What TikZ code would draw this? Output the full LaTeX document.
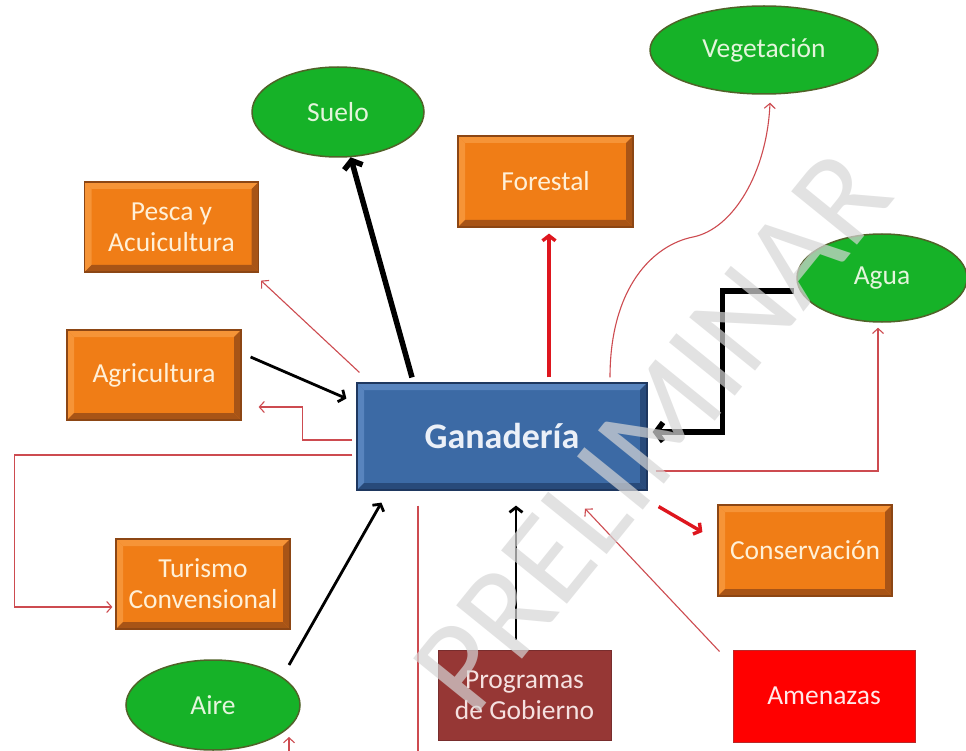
\documentclass[tikz,border=0pt]{standalone}
\usepackage{fontspec}
\setmainfont{Carlito}
\usetikzlibrary{shapes.geometric,arrows.meta}
\definecolor{orfill}{RGB}{240,125,22}
\definecolor{orline}{RGB}{140,70,20}
\definecolor{ordark}{RGB}{168,84,22}
\definecolor{orlight}{RGB}{246,148,55}
\definecolor{ortext}{RGB}{255,240,215}
\definecolor{blfill}{RGB}{60,106,165}
\definecolor{blline}{RGB}{30,55,95}
\definecolor{bldark}{RGB}{40,74,122}
\definecolor{bllight}{RGB}{88,132,190}
\definecolor{bltext}{RGB}{235,240,248}
\definecolor{grfill}{RGB}{22,178,40}
\definecolor{grline}{RGB}{80,98,40}
\definecolor{grtext}{RGB}{228,245,220}
\definecolor{pgfillc}{RGB}{150,55,53}
\definecolor{pgline}{RGB}{120,45,45}
\definecolor{pgtext}{RGB}{245,225,224}
\definecolor{amfill}{RGB}{255,0,0}
\definecolor{amline}{RGB}{185,40,40}
\definecolor{amtext}{RGB}{255,232,232}
\definecolor{thinr}{RGB}{205,75,80}
\definecolor{thickr}{RGB}{222,22,30}
\tikzset{
  bevel/.style n args={2}{path picture={
    \fill[#1] (path picture bounding box.north west) -- (path picture bounding box.north east)
      -- ([shift={(-7pt,-7pt)}]path picture bounding box.north east) -- ([shift={(7pt,-7pt)}]path picture bounding box.north west) -- cycle;
    \fill[#1] (path picture bounding box.north west) -- (path picture bounding box.south west)
      -- ([shift={(7pt,7pt)}]path picture bounding box.south west) -- ([shift={(7pt,-7pt)}]path picture bounding box.north west) -- cycle;
    \fill[#2] (path picture bounding box.south west) -- (path picture bounding box.south east)
      -- ([shift={(-7pt,7pt)}]path picture bounding box.south east) -- ([shift={(7pt,7pt)}]path picture bounding box.south west) -- cycle;
    \fill[#2] (path picture bounding box.south east) -- (path picture bounding box.north east)
      -- ([shift={(-7pt,-7pt)}]path picture bounding box.north east) -- ([shift={(-7pt,7pt)}]path picture bounding box.south east) -- cycle;
  }},
  lbl/.style={font=\fontsize{27.5}{31}\selectfont, align=center, inner sep=0pt},
  orbox/.style={lbl, rectangle, fill=orfill, draw=orline, line width=1.2pt, text=ortext, bevel={orlight}{ordark}, minimum width=174pt, minimum height=90pt},
  ganbox/.style={rectangle, fill=blfill, draw=blline, line width=1.2pt, text=bltext, bevel={bllight}{bldark}, font=\fontsize{36}{40}\selectfont\bfseries, inner sep=0pt, minimum width=290pt, minimum height=107pt},
  greenell/.style={lbl, ellipse, fill=grfill, draw=grline, line width=1.5pt, text=grtext},
  pgbox/.style={lbl, rectangle, fill=pgfillc, draw=pgline, line width=0.8pt, text=pgtext, minimum width=173pt, minimum height=90pt},
  ambox/.style={lbl, rectangle, fill=amfill, draw=amline, line width=1pt, text=amtext, minimum width=182pt, minimum height=92pt},
  thinred/.style={draw=thinr, line width=1.1pt, -{Straight Barb[length=5pt,width=11pt]}},
  thickred/.style={draw=thickr, line width=3.4pt, -{Straight Barb[length=5pt,width=13pt]}},
  blackmed/.style={draw=black, line width=2.8pt, -{Straight Barb[length=5pt,width=13pt]}},
  blackthick/.style={draw=black, line width=5.5pt, -{Straight Barb[length=7pt,width=19pt]}},
  wmark/.style={font=\fontsize{132}{132}\selectfont, text=black!16, text opacity=0.7, inner sep=0pt}
}
\begin{document}
\begin{tikzpicture}[x=1pt,y=-1pt]
\clip (0,0) rectangle (966,751);
\fill[white] (0,0) rectangle (966,751);

% nodes
\node[ganbox] (gan) at (502,436.5) {Ganadería};
\node[greenell, minimum width=172pt, minimum height=90pt] (suelo) at (338,112) {Suelo};
\node[greenell, minimum width=228pt, minimum height=88pt] (veg) at (764,50) {Vegetación};
\node[greenell, minimum width=170pt, minimum height=88pt] (agua) at (882,278) {Agua};
\node[greenell, minimum width=174pt, minimum height=90pt] (aire) at (213,705) {Aire};
\node[orbox] (pesca) at (171.5,227) {Pesca y\\Acuicultura};
\node[orbox] (agri) at (154,375) {Agricultura};
\node[orbox] (tur) at (203,584) {Turismo\\Convensional};
\node[orbox, minimum width=175pt, minimum height=91pt] (forestal) at (545.5,181.5) {Forestal};
\node[orbox, minimum width=174pt, minimum height=91pt] (cons) at (805,550.5) {Conservación};
\node[pgbox] (prog) at (524.5,695) {Programas\\de Gobierno};
\node[ambox] (amen) at (824,696) {Amenazas};

% connectors
\draw[blackthick] ([shift={(-90pt,5pt)}]gan.north) -- (suelo);
\draw[thinred] ([shift={(3pt,10pt)}]gan.north west) -- ([shift={(2pt,-8pt)}]pesca.south east);
\draw[blackmed] ([shift={(9pt,18pt)}]agri.east) -- ([shift={(-10pt,38pt)}]gan.west);
\draw[thinred] ([shift={(-4pt,-3.5pt)}]gan.west) -- ++(-50pt,0pt) |- ([shift={(17pt,-32pt)}]agri.east);
\draw[thinred] ([shift={(-4pt,-18.5pt)}]gan.west) -- ++(-338pt,0pt) |- ([shift={(-3pt,-23pt)}]tur.west);
\draw[thickred] ([shift={(47pt,5pt)}]gan.north) -- ([shift={(3.5pt,-6pt)}]forestal.south);
\coordinate (vegmid) at (693,237);
\draw[thinred] ([shift={(108pt,5pt)}]gan.north) .. controls +(0pt,90pt) and +(-40pt,-8pt) .. (vegmid)
  .. controls +(40pt,8pt) and +(-3pt,-70pt) .. ([shift={(6pt,-8pt)}]veg.south);
\draw[blackthick, line join=miter] ([shift={(-2pt,-13pt)}]agua.west) -- ++(-72pt,0pt) |- ([shift={(5pt,4.5pt)}]gan.east);
\draw[thinred] ([shift={(8pt,-34.5pt)}]gan.east) -| ([shift={(-4pt,-5pt)}]agua.south);
\draw[thickred] ([shift={(11pt,-16pt)}]gan.south east) -- ([shift={(-15pt,18.5pt)}]cons.west);
\draw[thinred] ([shift={(-13pt,-2pt)}]amen.north west) -- ([shift={(83pt,-18pt)}]gan.south);
\draw[blackmed] ([shift={(-8.5pt,10pt)}]prog.north) -- ([shift={(14pt,-15pt)}]gan.south);
\draw[blackmed] ([shift={(76pt,40pt)}]aire.center) -- ([shift={(25pt,-12pt)}]gan.south west);
\draw[thinred] ([shift={(-84pt,-15pt)}]gan.south) -- ++(0pt,-270pt) -| ([shift={(76pt,-32pt)}]aire.center);

% watermark
\node[wmark, rotate=51] (wm) at (652,432) {PRELIMINAR};
\end{tikzpicture}
\end{document}
